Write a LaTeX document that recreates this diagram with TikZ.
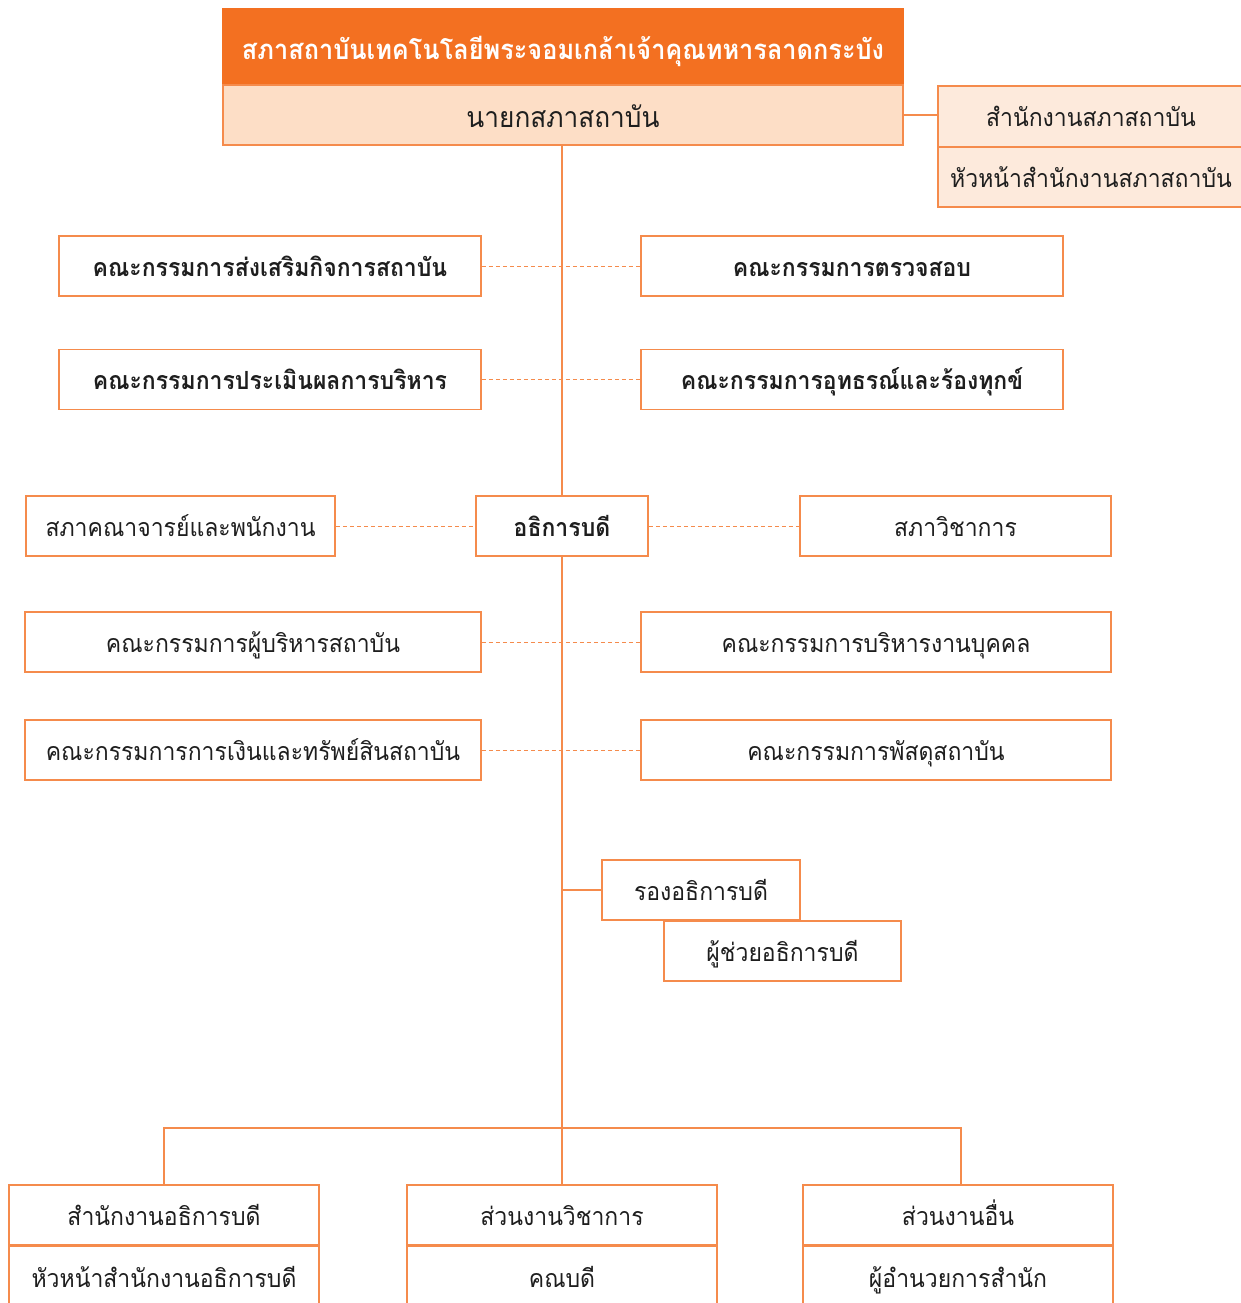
\documentclass[tikz,border=0pt]{standalone}
\usepackage{fontspec}
\setmainfont[Script=Thai,FakeStretch=0.92]{Loma}
\definecolor{org}{HTML}{F37021}
\definecolor{ln}{HTML}{F58B4C}
\definecolor{peach}{HTML}{FDDEC6}
\definecolor{lpeach}{HTML}{FDEADC}
\definecolor{txt}{HTML}{1E1E1E}
\begin{document}
\begin{tikzpicture}[x=1pt,y=-1pt,
  box/.style={draw=ln,line width=1.6pt,inner sep=0pt,text=txt,text height=26pt,text depth=6pt,font=\fontsize{25}{30}\selectfont},
  bbox/.style={box,font=\fontsize{25}{30}\selectfont\bfseries},
  big/.style={text height=29pt,text depth=4pt},
  solid line/.style={draw=ln,line width=1.6pt},
  dash line/.style={draw=ln,line width=1pt,dash pattern=on 4pt off 3pt}]
\useasboundingbox (0,0) rectangle (1241,1303);
% header
\node[box,big,fill=org,draw=org,minimum width=680,minimum height=76,text=white,font=\fontsize{27.5}{32}\selectfont\bfseries] (title) at (563,47) {สภาสถาบันเทคโนโลยีพระจอมเกล้าเจ้าคุณทหารลาดกระบัง};
\node[box,big,fill=peach,minimum width=680,minimum height=60,font=\fontsize{28.5}{32}\selectfont] (chair) at (563,115) {นายกสภาสถาบัน};
% office
\node[box,fill=lpeach,minimum width=306,minimum height=61] (off1) at (1091,116.5) {สำนักงานสภาสถาบัน};
\node[box,fill=lpeach,minimum width=306,minimum height=60] (off2) at (1091,177) {หัวหน้าสำนักงานสภาสถาบัน};
% committees
\node[bbox,minimum width=422,minimum height=60] (c1l) at (270,266) {คณะกรรมการส่งเสริมกิจการสถาบัน};
\node[bbox,minimum width=422,minimum height=60] (c1r) at (852,266) {คณะกรรมการตรวจสอบ};
\node[bbox,minimum width=422,minimum height=60] (c2l) at (270,379.5) {คณะกรรมการประเมินผลการบริหาร};
\node[bbox,minimum width=422,minimum height=60] (c2r) at (852,379.5) {คณะกรรมการอุทธรณ์และร้องทุกข์};
\node[box,minimum width=309,minimum height=60] (c3l) at (180.5,526) {สภาคณาจารย์และพนักงาน};
\node[bbox,minimum width=172,minimum height=60] (pres) at (562,526) {อธิการบดี};
\node[box,minimum width=311,minimum height=60] (c3r) at (955.5,526) {สภาวิชาการ};
\node[box,minimum width=456,minimum height=60] (c4l) at (253,642) {คณะกรรมการผู้บริหารสถาบัน};
\node[box,minimum width=470,minimum height=60] (c4r) at (876,642) {คณะกรรมการบริหารงานบุคคล};
\node[box,minimum width=456,minimum height=60] (c5l) at (253,750) {คณะกรรมการการเงินและทรัพย์สินสถาบัน};
\node[box,minimum width=470,minimum height=60] (c5r) at (876,750) {คณะกรรมการพัสดุสถาบัน};
% vice
\node[box,minimum width=198,minimum height=60] (vp) at (701,890) {รองอธิการบดี};
\node[box,minimum width=237,minimum height=60] (ap) at (782.5,951) {ผู้ช่วยอธิการบดี};
% bottom
\node[box,minimum width=310,minimum height=60] (b1a) at (164,1215) {สำนักงานอธิการบดี};
\node[box,minimum width=310,minimum height=62,anchor=north] (b1b) at (b1a.south) {หัวหน้าสำนักงานอธิการบดี};
\node[box,minimum width=310,minimum height=60] (b2a) at (562,1215) {ส่วนงานวิชาการ};
\node[box,minimum width=310,minimum height=62,anchor=north] (b2b) at (b2a.south) {คณบดี};
\node[box,minimum width=310,minimum height=60] (b3a) at (958,1215) {ส่วนงานอื่น};
\node[box,minimum width=310,minimum height=62,anchor=north] (b3b) at (b3a.south) {ผู้อำนวยการสำนัก};
% connectors
\draw[solid line] (chair.east) -- (chair.east -| off1.west);
\draw[solid line] (chair.south -| pres.north) -- (pres.north);
\draw[solid line] (pres.south) -- (b2a.north);
\coordinate (hub) at (562,1128);
\coordinate (hl) at (164,1128);
\coordinate (hr) at (961,1128);
\draw[solid line] (hub) -- (hl) -- (hl |- b1a.north);
\draw[solid line] (hub) -- (hr) -- (hr |- b3a.north);
\draw[solid line] (vp.west) -- (vp.west -| pres.south);
\draw[dash line] (c1l.east) -- (c1r.west);
\draw[dash line] (c2l.east) -- (c2r.west);
\draw[dash line] (c3l.east) -- (pres.west);
\draw[dash line] (pres.east) -- (c3r.west);
\draw[dash line] (c4l.east) -- (c4r.west);
\draw[dash line] (c5l.east) -- (c5r.west);
\end{tikzpicture}
\end{document}
